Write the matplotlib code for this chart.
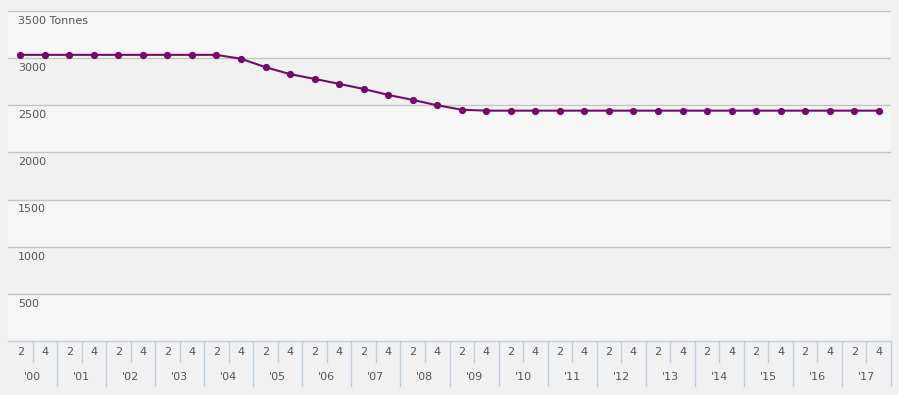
import matplotlib
matplotlib.use("Agg")
import matplotlib.pyplot as plt
import matplotlib.transforms as mtransforms
import numpy as np

years = ["'00", "'01", "'02", "'03", "'04", "'05", "'06", "'07", "'08",
         "'09", "'10", "'11", "'12", "'13", "'14", "'15", "'16", "'17"]
quarters = ["2", "4"]
tonnes = [3035, 3035, 3035, 3035, 3035, 3035, 3035, 3035, 3035,
          2993, 2904, 2830, 2780, 2727, 2673, 2610, 2557, 2500, 2453,
          2443, 2443, 2443, 2443, 2443, 2443, 2443, 2443, 2443, 2443,
          2443, 2443, 2443, 2443, 2443, 2443, 2443]
y_ticks = [500, 1000, 1500, 2000, 2500, 3000, 3500]

W, H = 899, 395
fig = plt.figure(figsize=(W / 100, H / 100), dpi=100, facecolor="#f1f1f1")
ax = fig.add_axes([8 / W, 54 / H, 883 / W, 330 / H])
ax.set_facecolor("#f6f6f6")

x = np.arange(len(tonnes))
ax.set_xlim(-0.5, len(tonnes) - 0.5)
ax.set_ylim(0, 3500)

# alternating bands
for i, lo in enumerate(range(0, 3500, 500)):
    if i % 2 == 1:
        ax.axhspan(lo, lo + 500, color="#f1f1f1", lw=0, zorder=0)

for yv in y_ticks:
    ax.axhline(yv, color="#c4c4c4", lw=1, zorder=1)

ax.plot(x, tonnes, color="#750a6b", lw=1.5, marker="o", ms=4.2, zorder=3,
        clip_on=False)

for s in ["top", "right", "left"]:
    ax.spines[s].set_visible(False)
ax.spines["bottom"].set_color("#c0d0e0")
ax.spines["bottom"].set_linewidth(1)
ax.set_xticks([])
ax.set_yticks([])

# y labels inside the plot
for yv in y_ticks:
    lab = "3500 Tonnes" if yv == 3500 else str(yv)
    ax.annotate(lab, xy=(0.0113, yv), xycoords=("axes fraction", "data"),
                xytext=(0, -3.5), textcoords="offset points",
                ha="left", va="top", fontsize=8, color="#555555")

# two-level x axis
trans = mtransforms.blended_transform_factory(ax.transData, ax.transAxes)
px = 1 / 330
for i in range(len(tonnes)):
    ax.text(i, -11 * px, quarters[i % 2], transform=trans, ha="center",
            va="center", fontsize=8, color="#555555")
for k, yr in enumerate(years):
    ax.text(2 * k + 0.5, -36.5 * px, yr, transform=trans, ha="center",
            va="center", fontsize=8, color="#555555")
    ax.plot([2 * k + 0.5] * 2, [0, -21 * px], transform=trans,
            color="#c0d0e0", lw=1, clip_on=False)
    ax.plot([2 * k + 1.5] * 2, [0, -45 * px], transform=trans,
            color="#c0d0e0", lw=1, clip_on=False)

fig.savefig("out.png", dpi=100, facecolor=fig.get_facecolor())
